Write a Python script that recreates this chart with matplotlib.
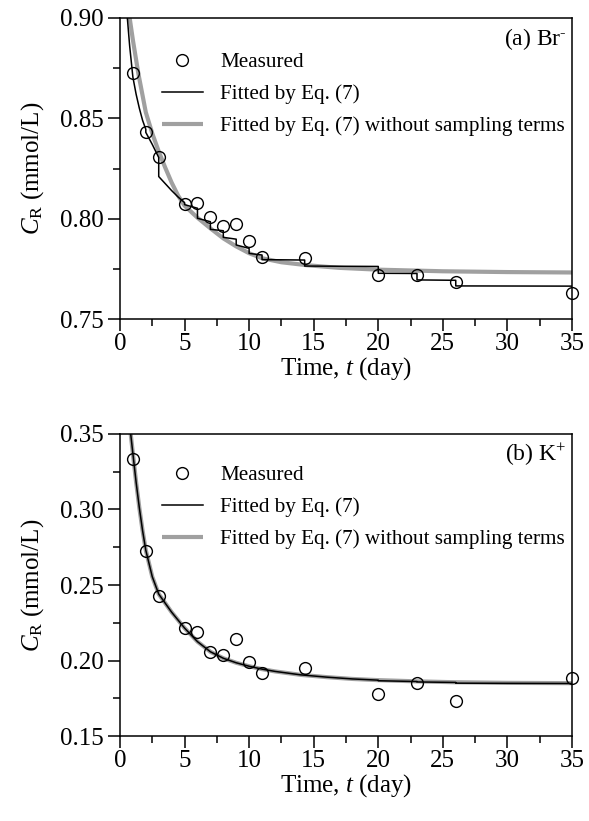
import numpy as np
import matplotlib
matplotlib.use("Agg")
import matplotlib.pyplot as plt

plt.rcParams['font.family'] = ['Liberation Serif', 'DejaVu Serif']
plt.rcParams['mathtext.fontset'] = 'custom'
plt.rcParams['mathtext.rm'] = 'Liberation Serif'
plt.rcParams['mathtext.it'] = 'Liberation Serif:italic'

# measured data (day, mmol/L)
t_meas = [1, 2, 3, 5, 6, 7, 8, 9, 10, 11, 14.3, 20, 23, 26, 35]
br_meas = [0.8724, 0.843, 0.8309, 0.8072, 0.8077, 0.8009, 0.7964, 0.7975,
           0.7889, 0.7811, 0.7806, 0.7719, 0.7719, 0.7686, 0.7631]
k_meas = [0.3334, 0.2725, 0.2429, 0.2217, 0.2187, 0.2058, 0.2036, 0.2145,
          0.1992, 0.1917, 0.1950, 0.1781, 0.1853, 0.1734, 0.1882]

# Br- fitted by Eq. (7) (steps at sampling times)
br_fit_t = [0.57, 0.75, 1.0, 1.25, 1.5, 1.75, 2.0, 2.0, 2.5, 3.0, 3.0, 3.5, 4.0,
            4.5, 5.0, 5.0, 6.0, 6.0, 7.0, 7.0, 8.0, 8.0, 9.0, 9.0, 10.0, 10.0,
            11.0, 11.0, 14.3, 14.3, 20, 20, 23, 23, 26, 26, 35]
br_fit = [0.900, 0.886, 0.8705, 0.862, 0.855, 0.849, 0.8445, 0.8430, 0.837,
          0.8305, 0.8210, 0.8175, 0.8140, 0.8108, 0.8080, 0.8070, 0.8052,
          0.8002, 0.7985, 0.7947, 0.7940, 0.7907, 0.7898, 0.7869, 0.7852,
          0.7827, 0.7819, 0.7796, 0.7794, 0.7764, 0.7762, 0.7728, 0.7727,
          0.7695, 0.7693, 0.7665, 0.7664]
# Br- fitted without sampling terms
br_ns_t = [0.75, 1.0, 1.42, 2.0, 2.5, 3.0, 3.5, 4.0, 4.5, 5.0, 6.0, 7.0, 8.0,
           9.0, 10.0, 11.0, 12.5, 14.5, 17.0, 20, 25, 30, 35]
br_ns = [0.900, 0.889, 0.8724, 0.853, 0.8425, 0.8335, 0.8255, 0.818, 0.8115,
         0.8065, 0.8005, 0.7952, 0.7902, 0.7862, 0.7828, 0.7803, 0.7783,
         0.7768, 0.7755, 0.7746, 0.7738, 0.7734, 0.7732]

# K+ fitted by Eq. (7)
k_fit_t = [0.83, 1.0, 1.25, 1.5, 1.75, 2.0, 2.5, 3.0, 4.0, 5.0, 6.0, 7.0, 8.0,
           9.0, 10.0, 11.0, 12.0, 14.0, 16.0, 18.0, 20, 20, 23, 23, 26, 26, 30, 35]
k_fit = [0.350, 0.337, 0.318, 0.301, 0.286, 0.273, 0.2555, 0.2440, 0.2320,
         0.2215, 0.2125, 0.2058, 0.2015, 0.1985, 0.1962, 0.1943, 0.1928,
         0.1905, 0.1890, 0.1878, 0.1870, 0.1866, 0.1861, 0.1858, 0.1855,
         0.1850, 0.1849, 0.1848]
# K+ fitted without sampling terms
k_ns_t = [0.83, 1.0, 1.25, 1.5, 1.75, 2.0, 2.5, 3.0, 4.0, 5.0, 6.0, 7.0, 8.0,
          9.0, 10.0, 11.0, 12.0, 14.0, 16.0, 18.0, 20, 23, 26, 30, 35]
k_ns = [0.350, 0.337, 0.318, 0.301, 0.286, 0.273, 0.2555, 0.2440, 0.2320,
        0.2215, 0.2125, 0.2058, 0.2015, 0.1985, 0.1962, 0.1943, 0.1928,
        0.1905, 0.1890, 0.1878, 0.1870, 0.1862, 0.1856, 0.1852, 0.1850]

panels = [
    (br_meas, br_fit_t, br_fit, br_ns_t, br_ns, (0.75, 0.90), [0.75, 0.80, 0.85, 0.90],
     r'(a) Br$^{\text{-}}$', 0.886),
    (k_meas, k_fit_t, k_fit, k_ns_t, k_ns, (0.15, 0.35), [0.15, 0.20, 0.25, 0.30, 0.35],
     r'(b) K$^{\mathregular{+}}$', 0.896),
]

fig = plt.figure(figsize=(5.89, 8.21), dpi=100)
rects = [[0.2037, 0.6114, 0.7674, 0.3667], [0.2037, 0.1035, 0.7674, 0.3679]]

for rect, (meas, ft, fv, nt, nv, ylim, yticks, label, leg_y) in zip(rects, panels):
    ax = fig.add_axes(rect)
    ax.plot(nt, nv, color='#a0a0a0', lw=3.0, solid_capstyle='butt',
            label='Fitted by Eq. (7) without sampling terms', zorder=2)
    ax.plot(ft, fv, color='black', lw=1.1, label='Fitted by Eq. (7)', zorder=3)
    ax.plot(t_meas, meas, 'o', mfc='none', mec='black', ms=8.5, mew=1.0,
            label='Measured', zorder=4, clip_on=False)
    ax.set_xlim(0, 35)
    ax.set_ylim(*ylim)
    ax.set_xticks(np.arange(0, 36, 5))
    ax.set_xticks(np.arange(2.5, 35, 5), minor=True)
    ax.set_yticks(yticks)
    ax.set_yticks(np.arange(ylim[0] + 0.025, ylim[1], 0.05), minor=True)
    ax.set_yticklabels(['%.2f' % v for v in yticks])
    ax.tick_params(which='both', direction='out', top=False, right=False,
                   labelsize=18, width=1.1)
    ax.tick_params(which='major', length=8.5)
    ax.tick_params(axis='y', which='major', pad=3)
    ax.tick_params(axis='x', which='major', pad=1.5)
    ax.tick_params(which='minor', length=5)
    for s in ax.spines.values():
        s.set_linewidth(1.1)
    ax.set_xlabel(r'Time, $\mathit{t}$ (day)', fontsize=18, labelpad=0)
    ax.set_ylabel(r'$\mathit{C}_{\mathregular{R}}$ (mmol/L)', fontsize=18, labelpad=10)
    ax.text(0.988, 0.93, label, transform=ax.transAxes, ha='right', va='center',
            fontsize=17)
    h, l = ax.get_legend_handles_labels()
    ax.legend(h[::-1], l[::-1], loc='upper left', bbox_to_anchor=(0.093, leg_y),
              frameon=False, fontsize=15.2, borderaxespad=0, borderpad=0,
              handlelength=1.92, handletextpad=0.85, labelspacing=0.58)

fig.savefig('out.png', dpi=100)
